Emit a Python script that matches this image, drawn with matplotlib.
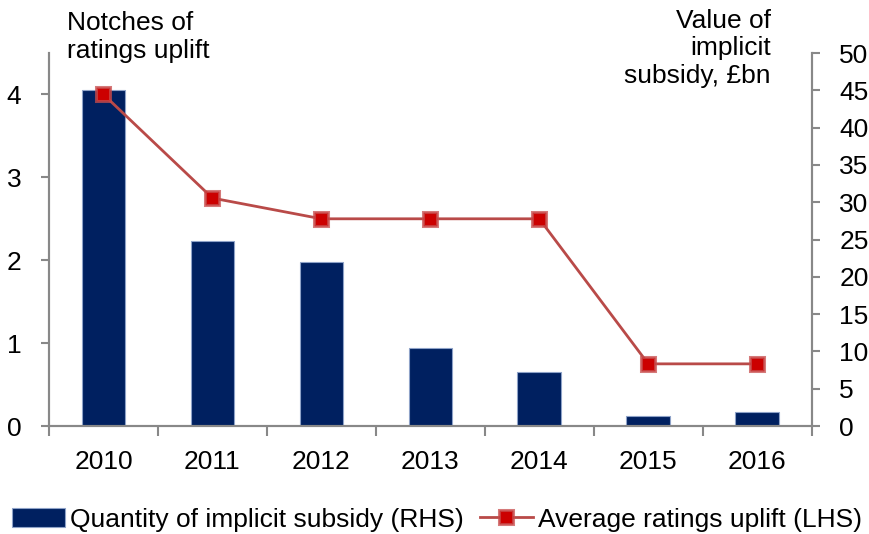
import matplotlib.pyplot as plt
import numpy as np

plt.rcParams['font.family'] = ['Liberation Sans', 'DejaVu Sans']

years = ['2010', '2011', '2012', '2013', '2014', '2015', '2016']
subsidy = [45.0, 24.8, 22.0, 10.5, 7.2, 1.4, 1.9]          # £bn, RHS
uplift = [4.0, 2.75, 2.5, 2.5, 2.5, 0.75, 0.75]              # notches, LHS

navy = '#002060'
red_line = '#B94A48'
grey = '#888888'
fs = 19

fig = plt.figure(figsize=[8.69, 5.34], dpi=100)
ax = fig.add_axes([0.0564, 0.2022, 0.8776, 0.6985])
x = np.arange(len(years))

# bars on the right hand scale
ax.bar(x, subsidy, width=0.4, color=navy, edgecolor='#8EA2C8', linewidth=0.8, zorder=2,
       label='Quantity of implicit subsidy (RHS)')
ax.set_ylim(0, 50)
ax.set_yticks(np.arange(0, 51, 5))
ax.yaxis.tick_right()
ax.set_xlim(-0.5, len(years) - 0.5)

# line on the left hand scale
ax2 = ax.twinx()
ax2.plot(x, uplift, color=red_line, linewidth=2, marker='s', markersize=10,
         markerfacecolor='#CC0000', markeredgecolor=(0.78, 0.3, 0.3, 0.75), markeredgewidth=2.2,
         label='Average ratings uplift (LHS)', zorder=3)
ax2.set_ylim(0, 4.5)
ax2.set_yticks([0, 1, 2, 3, 4])
ax2.yaxis.tick_left()

for a in [ax, ax2]:
    a.spines['top'].set_visible(False)
    for s in ['left', 'right', 'bottom']:
        a.spines[s].set_color(grey)
        a.spines[s].set_linewidth(1.5)
    a.set_facecolor('none')

ax.tick_params(axis='y', which='major', direction='out', length=6, width=1.5, color=grey,
               labelsize=fs, pad=14, right=True, left=False, labelright=True, labelleft=False)
ax2.tick_params(axis='y', which='major', direction='out', length=6, width=1.5, color=grey,
                labelsize=fs, pad=14, left=True, right=False, labelleft=True, labelright=False)

ax.set_xticks(x)
ax.set_xticklabels(years)
ax.set_xticks(np.arange(-0.5, len(years)), minor=True)
ax.tick_params(axis='x', which='major', length=0, labelsize=fs, pad=17)
ax.tick_params(axis='x', which='minor', direction='out', length=7, width=1.5, color=grey)

fig.text(0.077, 0.979, 'Notches of\nratings uplift', fontsize=fs, ha='left', va='top', linespacing=1.2)
fig.text(0.887, 0.984, 'Value of\nimplicit\nsubsidy, £bn', fontsize=fs, ha='right', va='top',
         linespacing=1.2, multialignment='right')

h1, l1 = ax.get_legend_handles_labels()
h2, l2 = ax2.get_legend_handles_labels()
fig.legend(h1 + h2, l1 + l2, loc='lower center', bbox_to_anchor=(0.503, -0.04), ncol=2,
           frameon=False, fontsize=fs, handlelength=2.0, handleheight=0.7,
           handletextpad=0.2, columnspacing=0.6)

plt.savefig('out.png', dpi=100)
